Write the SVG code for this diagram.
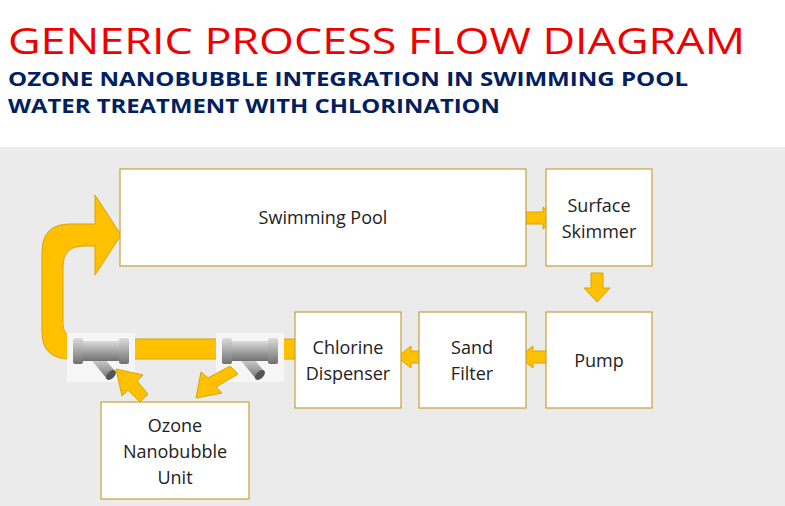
<svg xmlns="http://www.w3.org/2000/svg" width="785" height="506" viewBox="0 0 785 506">
<defs>
<style>
.box{fill:#fff;stroke:#c9a13a;stroke-width:1.2}
.lbl{font-family:"Open Sans","Liberation Sans",sans-serif;font-size:18px;fill:#222;text-anchor:middle}
.arr{fill:#ffc000;stroke:#d9a400;stroke-width:1}
</style>
<linearGradient id="pg" x1="0" y1="0" x2="0" y2="1">
<stop offset="0" stop-color="#dcdcdc"/><stop offset="0.45" stop-color="#ababab"/><stop offset="1" stop-color="#707070"/>
</linearGradient>
<g id="wye">
<rect x="0" y="0" width="68" height="49" fill="#f6f6f6"/>
<path d="M22,24 L36,24 L48,38 L40,46 Z" fill="url(#pg)"/>
<rect x="8" y="8" width="52" height="20" rx="3" fill="url(#pg)"/>
<rect x="6" y="5" width="10" height="26" rx="2" fill="url(#pg)"/>
<rect x="52" y="5" width="10" height="26" rx="2" fill="url(#pg)"/>
<ellipse cx="44" cy="42" rx="6" ry="3.5" fill="#555" transform="rotate(-45 44 42)"/>
</g>
</defs>
<rect width="785" height="506" fill="#fff"/>
<rect x="0" y="147" width="785" height="359" fill="#ebebeb"/>
<text x="8" y="54" font-family="Open Sans,Liberation Sans,sans-serif" font-size="37" fill="#ee0000" textLength="737" lengthAdjust="spacingAndGlyphs">GENERIC PROCESS FLOW DIAGRAM</text>
<text x="8" y="86" font-family="Open Sans,Liberation Sans,sans-serif" font-size="20" font-weight="bold" fill="#002060" textLength="680" lengthAdjust="spacingAndGlyphs">OZONE NANOBUBBLE INTEGRATION IN SWIMMING POOL</text>
<text x="8" y="113" font-family="Open Sans,Liberation Sans,sans-serif" font-size="20" font-weight="bold" fill="#002060" textLength="492" lengthAdjust="spacingAndGlyphs">WATER TREATMENT WITH CHLORINATION</text>
<g id="connectors">
<path class="arr" d="M296,339 L85,339 Q63,339 63,325 L63,266 Q63,246 83,246 L95,246 L95,275 L121,235 L95,195 L95,224 L70,224 Q42,224 42,252 L42,332 Q42,359 70,359 L296,359 Z"/>
<path class="arr" d="M526,212 L543,212 L543,207 L556,218 L543,229 L543,224 L526,224 Z"/>
<path class="arr" d="M591,273 L603,273 L603,288 L610,288 L597,302 L584,288 L591,288 Z"/>
<path class="arr" d="M548,351 L533,351 L533,346 L519,357 L533,368 L533,363 L548,363 Z"/>
<path class="arr" d="M426,351 L411,351 L411,346 L397,357 L411,368 L411,363 L426,363 Z"/>
</g>
<use href="#wye" x="67" y="333"/>
<use href="#wye" x="216" y="333"/>
<g id="small-arrows">
<path class="arr" d="M148,394 L140,402 L128,390 L122,396 L116,369 L143,375 L137,381 Z"/>
<path class="arr" d="M236,372 L244,380 L222,393 L228,399 L202,404 L207,378 L214,384 Z" transform="translate(-6 -6)"/>
</g>
<g id="pool"><rect class="box" x="120" y="169" width="406" height="97"/><text class="lbl" x="323" y="224">Swimming Pool</text></g>
<g id="skimmer"><rect class="box" x="546" y="169" width="106" height="97"/><text class="lbl" x="599" y="212">Surface</text><text class="lbl" x="599" y="238">Skimmer</text></g>
<g id="pump"><rect class="box" x="546" y="312" width="106" height="96"/><text class="lbl" x="599" y="367">Pump</text></g>
<g id="sand"><rect class="box" x="419" y="312" width="107" height="96"/><text class="lbl" x="472" y="354">Sand</text><text class="lbl" x="472" y="380">Filter</text></g>
<g id="chlorine"><rect class="box" x="295" y="312" width="106" height="96"/><text class="lbl" x="348" y="354">Chlorine</text><text class="lbl" x="348" y="380">Dispenser</text></g>
<g id="ozone"><rect class="box" x="101" y="402" width="148" height="97"/><text class="lbl" x="175" y="432">Ozone</text><text class="lbl" x="175" y="458">Nanobubble</text><text class="lbl" x="175" y="484">Unit</text></g>
</svg>
